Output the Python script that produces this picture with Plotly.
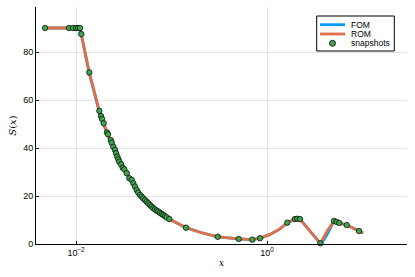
import plotly.graph_objects as go

# Snapshot locations and values
snap_x = [0.00474, 0.00845, 0.00930, 0.0100, 0.01050, 0.01101, 0.01136, 0.01378,
          0.01754, 0.01827, 0.01873, 0.01950, 0.02112, 0.02163, 0.02309, 0.02365,
          0.02458, 0.02561, 0.02623, 0.02707, 0.02773, 0.02841, 0.02959, 0.03083,
          0.03205, 0.03397, 0.03614, 0.03830, 0.03981, 0.04147, 0.04321, 0.04492,
          0.04680, 0.04875, 0.05066, 0.05278, 0.05499, 0.05716, 0.05954, 0.06204,
          0.06448, 0.06718, 0.06998, 0.07275, 0.07579, 0.07897, 0.08206, 0.08549,
          0.08906, 0.09484, 0.1418, 0.3047, 0.5055, 0.7017, 0.8446,
          1.632, 1.964, 2.076, 2.216, 3.615, 5.030, 5.368, 5.716, 6.832, 9.192]
snap_y = [90.0, 90.0, 90.0, 90.0, 90.0, 90.0, 87.5, 71.5,
          55.5, 53.3, 52.1, 50.3, 46.5, 45.7, 43.3, 42.2,
          40.5, 39.2, 37.8, 36.4, 35.3, 34.3, 33.2, 31.8,
          31.1, 29.5, 27.4, 26.7, 25.3, 23.9, 22.5, 21.4,
          20.4, 19.7, 19.0, 18.3, 17.6, 17.0, 16.25, 15.6,
          14.9, 14.4, 13.9, 13.5, 13.0, 12.5, 12.1, 11.6,
          11.1, 10.4, 6.8, 3.0, 2.1, 1.8, 2.4,
          8.9, 10.4, 10.5, 10.4, 0.3, 9.6, 9.2, 8.75, 7.9, 5.4]

# Full-order model curve
fom_x = [0.00474, 0.0100, 0.01101, 0.01136, 0.01378, 0.01754, 0.02112, 0.02458,
         0.02841, 0.03397, 0.04147, 0.04875, 0.05954, 0.07275, 0.09484, 0.1418,
         0.1988, 0.3047, 0.5055, 0.7017, 0.8446, 1.075, 1.368, 1.632, 1.964,
         2.076, 2.216, 2.820, 3.680, 4.300, 5.030, 5.368, 5.716, 6.832, 9.192, 10.19]
fom_y = [90.0, 90.0, 90.0, 87.2, 71.0, 55.0, 46.0, 40.2,
         34.0, 29.3, 23.7, 19.6, 16.2, 13.4, 10.4, 6.8,
         4.9, 3.0, 2.1, 1.8, 2.4, 4.0, 6.3, 8.9, 10.4,
         10.5, 10.4, 5.4, 0.0, 4.2, 9.6, 9.2, 8.75, 7.9, 5.4, 4.6]

# Reduced-order model curve
rom_x = [0.00474, 0.0100, 0.01101, 0.01136, 0.01378, 0.01754, 0.02112, 0.02458,
         0.02841, 0.03397, 0.04147, 0.04875, 0.05954, 0.07275, 0.09484, 0.1418,
         0.1988, 0.3047, 0.5055, 0.7017, 0.8446, 1.075, 1.368, 1.632, 1.964,
         2.076, 2.216, 2.820, 3.615, 4.300, 5.030, 5.368, 5.716, 6.832, 9.192, 10.19]
rom_y = [90.0, 90.0, 90.0, 87.5, 71.5, 55.5, 46.5, 40.5,
         34.3, 29.5, 23.9, 19.7, 16.25, 13.5, 10.4, 6.8,
         4.9, 3.0, 2.1, 1.8, 2.4, 4.0, 6.3, 8.9, 10.4,
         10.5, 10.4, 5.4, 0.3, 5.6, 9.6, 9.2, 8.75, 7.9, 5.4, 4.6]

x_tickvals = [0.01, 1]
x_ticktext = ["10<sup>−2</sup>", "10<sup>0</sup>"]
y_tickvals = [0, 20, 40, 60, 80]

legend_names = ["FOM", "ROM", "snapshots"]
c_fom, c_rom, c_snap = "#009AFA", "#E36F47", "#3EA44E"

fig = go.Figure()
fig.add_trace(go.Scatter(x=fom_x, y=fom_y, mode="lines", name=legend_names[0],
                         line=dict(color=c_fom, width=2.8)))
fig.add_trace(go.Scatter(x=rom_x, y=rom_y, mode="lines", name=legend_names[1],
                         line=dict(color=c_rom, width=2.8)))
fig.add_trace(go.Scatter(x=snap_x, y=snap_y, mode="markers", name=legend_names[2],
                         marker=dict(color=c_snap, size=5.5,
                                     line=dict(color="black", width=0.7)),
                         cliponaxis=False))

# Manual compact legend (paper coordinates)
L, T, W, H = 36, 7, 371, 237
def px(p):
    return (p - L) / W
def py(p):
    return (T + H - p) / H

fig.add_shape(type="rect", xref="paper", yref="paper",
              x0=px(316.7), x1=px(394.3), y0=py(51), y1=py(16),
              line=dict(color="black", width=1), fillcolor="white", layer="above")
rows = [24.7, 34.0, 43.3]
for i, (nm, col) in enumerate(zip(legend_names[:2], [c_fom, c_rom])):
    fig.add_shape(type="line", xref="paper", yref="paper",
                  x0=px(320), x1=px(345), y0=py(rows[i]), y1=py(rows[i]),
                  line=dict(color=col, width=2.8), layer="above")
fig.add_shape(type="circle", xref="paper", yref="paper",
              xsizemode="pixel", ysizemode="pixel",
              xanchor=px(332.5), yanchor=py(rows[2]),
              x0=-3, x1=3, y0=-3, y1=3,
              fillcolor=c_snap, line=dict(color="black", width=0.8), layer="above")
for i, nm in enumerate(legend_names):
    fig.add_annotation(xref="paper", yref="paper", x=px(348.5), y=py(rows[i]),
                       text=nm, showarrow=False, xanchor="left", yanchor="middle",
                       font=dict(size=8.5, color="black"))

font = "Liberation Sans, Arial, sans-serif"
fig.update_layout(
    width=415, height=277,
    margin=dict(l=L, r=415 - L - W, t=T, b=277 - T - H),
    paper_bgcolor="white", plot_bgcolor="white",
    font=dict(family=font, size=9, color="black"),
    showlegend=False,
    xaxis=dict(type="log", range=[-2.419, 1.466], automargin=False,
               tickvals=x_tickvals, ticktext=x_ticktext,
               ticks="inside", ticklen=3, tickcolor="black",
               showgrid=True, gridcolor="rgba(0,0,0,0.1)", gridwidth=0.5,
               showline=True, linecolor="black", linewidth=1,
               zeroline=False,
               title=dict(text="<i>x</i>", font=dict(family="DejaVu Serif, serif", size=9),
                          standoff=2)),
    yaxis=dict(range=[0, 98.75], tickvals=y_tickvals, automargin=False,
               ticks="inside", ticklen=3, tickcolor="black",
               showgrid=True, gridcolor="rgba(0,0,0,0.1)", gridwidth=0.5,
               showline=True, linecolor="black", linewidth=1,
               zeroline=False,
               title=dict(text="<i>S</i>(<i>x</i>)", font=dict(family="DejaVu Serif, serif", size=10),
                          standoff=4)),
)

fig.write_html("out.html", config={"displayModeBar": False},
               post_script="document.body.style.margin='0';")
